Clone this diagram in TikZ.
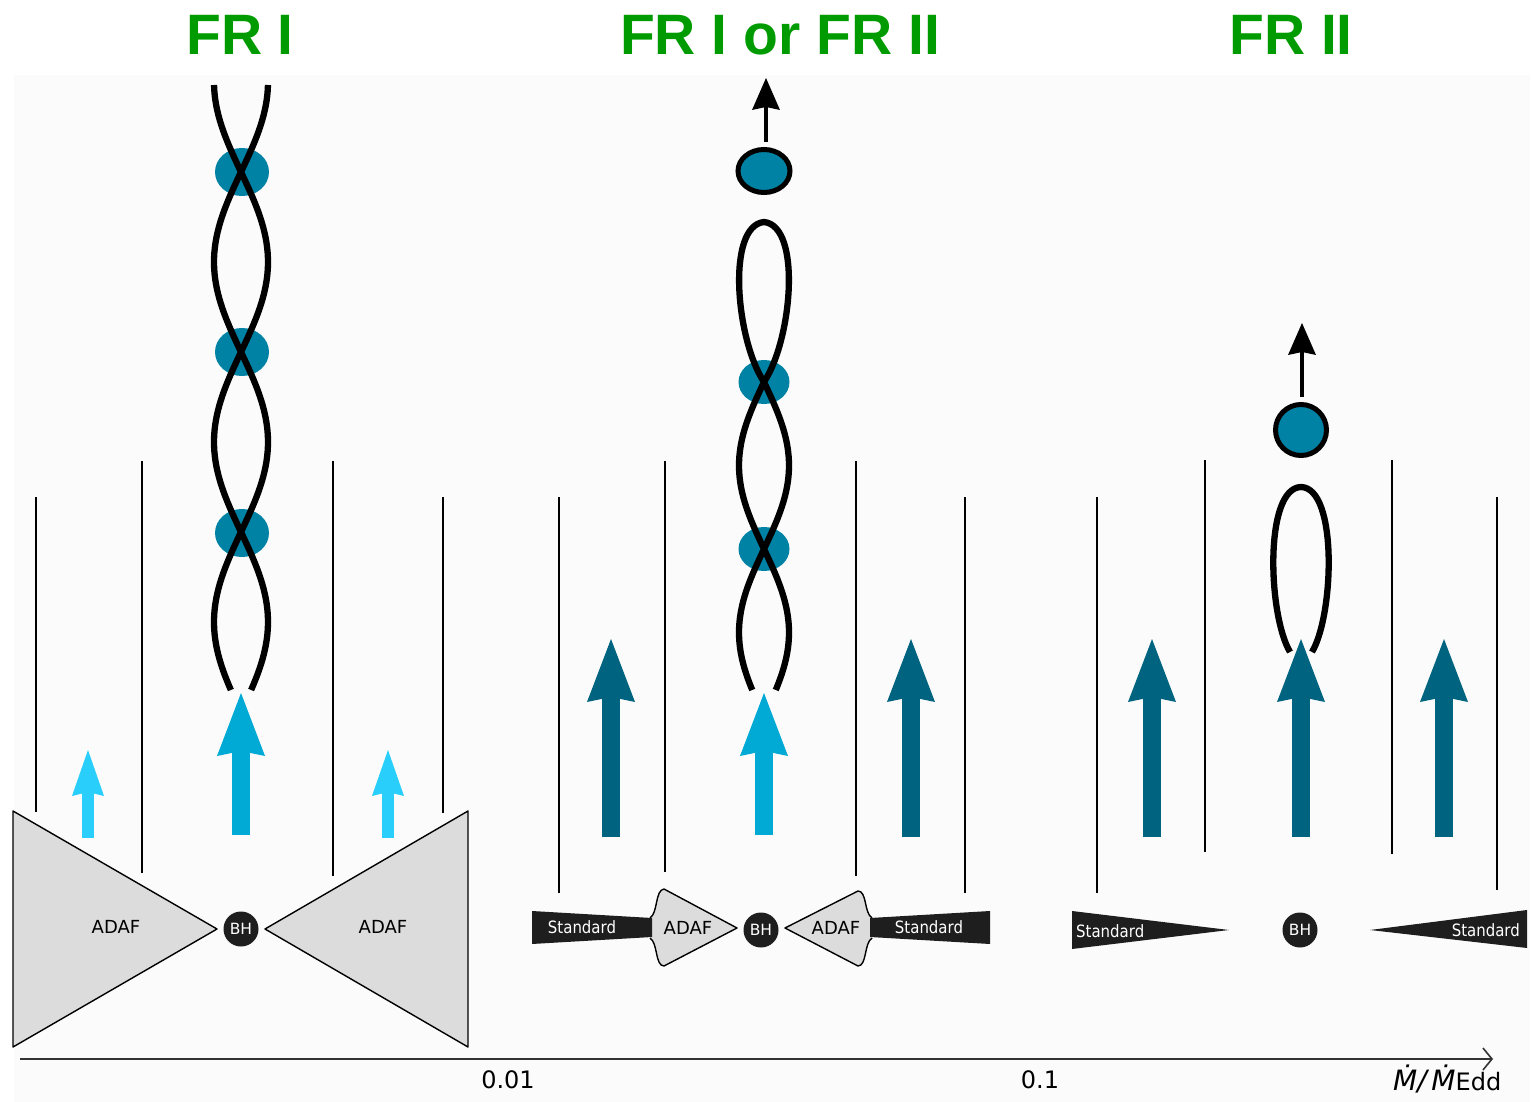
\documentclass[tikz,border=0pt]{standalone}
\usepackage{fontspec}
\setmainfont{DejaVu Sans}
\newfontfamily\titlefont{Liberation Sans}
\newfontfamily\narrowfont[FakeStretch=0.88]{DejaVu Sans}
\usetikzlibrary{arrows.meta}
\definecolor{frgreen}{RGB}{0,155,0}
\definecolor{knotblue}{RGB}{0,130,165}
\definecolor{jetdark}{RGB}{0,100,128}
\definecolor{jetmid}{RGB}{0,170,212}
\definecolor{jetlight}{RGB}{42,206,250}
\definecolor{adafgray}{RGB}{220,220,220}
\definecolor{diskblack}{RGB}{30,30,30}

\begin{document}
\begin{tikzpicture}[x=1pt,y=-1pt,
title/.style={text=frgreen, font=\titlefont\bfseries\fontsize{57}{57}\selectfont},
bh/.style={circle, fill=diskblack, text=white, minimum size=35pt, inner sep=0pt, font=\fontsize{15.5}{16}\selectfont},
adaf/.style={fill=adafgray, draw=black, line width=1.4pt, line join=round},
disk/.style={fill=diskblack},
lbl/.style={font=\fontsize{18}{18}\selectfont},
std/.style={text=white, inner sep=0pt, font=\narrowfont\fontsize{17}{17}\selectfont},
tick/.style={font=\fontsize{24}{24}\selectfont},
vline/.style={line width=1.8pt},
strand/.style={line width=6.3pt, line join=round},
knot/.style={fill=knotblue},
blob/.style={fill=knotblue, draw=black, line width=5pt},
corejet/.style={line width=18pt, -{Stealth[length=63pt, width=48pt, inset=5pt, line width=0pt]}},
weakjet/.style={line width=12pt, draw=jetlight, -{Stealth[length=46pt, width=32pt, inset=4pt, line width=0pt]}},
ejecta/.style={line width=4.5pt, -{Stealth[length=32pt, width=28pt, inset=3pt, line width=0pt]}}]
\useasboundingbox (0,0) rectangle (1535,1102);
\fill[black!1.5] (14,75) rectangle (1530,1102);

\node[title] (fr1) at (240,35) {FR I};
\node[title] (fr12) at (780,35) {FR I or FR II};
\node[title] (fr2) at (1291,35) {FR II};

\foreach \x/\a/\b in {36/497/812, 142/461/873, 333/461/876, 443/497/813,
  559/497/893, 665/461/872, 856/461/876, 965/497/893,
  1097/497/893, 1205/460/852, 1392/460/854, 1497/497/890}
  \draw[vline] (\x,\a) -- (\x,\b);

% low accretion rate: ADAF only
\draw[adaf] (13,811) -- (217,929) -- (13,1047) -- cycle;
\draw[adaf] (468,811) -- (265,929) -- (468,1047) -- cycle;
\node[lbl] (adaf1) at (116,927) {ADAF};
\node[lbl] (adaf2) at (383,927) {ADAF};
\node[bh] (bh1) at (241,929) {BH};
\draw[weakjet] (88,838) -- (88,750);
\draw[weakjet] (388,838) -- (388,750);
\draw[corejet, draw=jetmid] (241,835) -- (241,693);
\foreach \y in {172,352,533}
  \fill[knot] (242,\y) ellipse[x radius=27, y radius=24];
\draw[strand] plot[domain=85:690, samples=120] ({241+27*sin(\x-172)},\x);
\draw[strand] plot[domain=85:690, samples=120] ({241-27*sin(\x-172)},\x);

% intermediate: truncated disc
\draw[adaf] (650,918) .. controls (658,913) and (655,890) .. (664,889) -- (737,928)
  -- (664,966) .. controls (655,966) and (658,943) .. (650,938);
\draw[adaf] (872,918) .. controls (864,913) and (867,891) .. (858,891) -- (785,928)
  -- (858,966) .. controls (867,966) and (864,943) .. (872,938);
\fill[disk] (532,911) -- (652,918) -- (652,937) -- (532,944) -- cycle;
\fill[disk] (870,918) -- (990,911) -- (990,944) -- (870,937) -- cycle;
\node[std] (std1) at (582,927) {Standard};
\node[lbl] (adaf3) at (688,928) {ADAF};
\node[bh] (bh2) at (761,930) {BH};
\node[lbl] (adaf4) at (836,928) {ADAF};
\node[std] (std2) at (929,927) {Standard};
\draw[corejet, draw=jetdark] (611,837) -- (611,639);
\draw[corejet, draw=jetmid] (764,835) -- (764,693);
\draw[corejet, draw=jetdark] (911,837) -- (911,639);
\foreach \y in {382,549}
  \fill[knot] (764,\y) ellipse[x radius=25.5, y radius=22];
\draw[strand] plot[domain=690:382, samples=80] ({764+25*sin((\x-382)*1.0778)},\x)
  .. controls (736,340) and (726,226) .. (764,222)
  .. controls (802,226) and (792,340) .. (764,382)
  -- plot[domain=382:690, samples=80] ({764-25*sin((\x-382)*1.0778)},\x);
\draw[blob] (764,171) ellipse[x radius=26, y radius=21.5];
\draw[ejecta] (766,142) -- (766,78);

% high accretion rate: standard disc
\fill[disk] (1072,911) -- (1229,930) -- (1072,949) -- cycle;
\fill[disk] (1527,910) -- (1370,930) -- (1527,948) -- cycle;
\node[std, anchor=west] (std3) at (1076,931) {Standard};
\node[std, anchor=east] (std4) at (1520,930) {Standard};
\node[bh] (bh3) at (1300,930) {BH};
\foreach \x in {1152,1301,1444}
  \draw[corejet, draw=jetdark] (\x,837) -- (\x,639);
\draw[strand] (1290,652) .. controls (1268,615) and (1264,488) .. (1301,487)
  .. controls (1338,488) and (1334,615) .. (1312,652);
\draw[blob] (1301,430) circle[radius=25.5];
\draw[ejecta] (1302,397) -- (1302,323);

% accretion rate axis
\coordinate (ax0) at (20,1059);
\coordinate (ax1) at (1493,1059);
\draw[line width=1.6pt, black!80, -{Straight Barb[length=9pt, width=22pt]}] (ax0) -- (ax1);
\node[tick] (t1) at (508,1080) {0.01};
\node[tick] (t2) at (1040,1080) {0.1};
\node[tick, anchor=base west, inner sep=0pt] (mdot) at (1393,1090)
  {{\itshape\fontsize{28}{28}\selectfont Ṁ/\,Ṁ}Edd};
\end{tikzpicture}
\end{document}
